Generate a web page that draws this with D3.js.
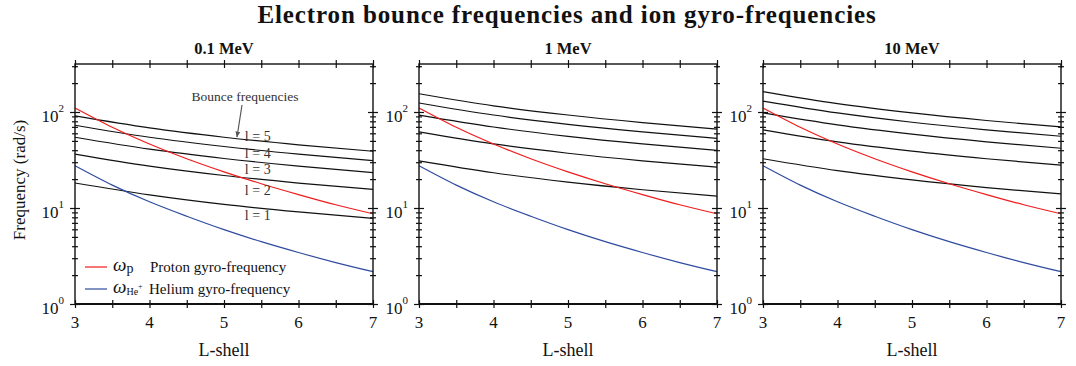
<!DOCTYPE html>
<html lang="en">
<head>
<meta charset="UTF-8">
<title>Electron bounce frequencies and ion gyro-frequencies</title>
<script src="https://d3js.org/d3.v7.min.js"></script>
<style>
  body { margin: 0; background: #fff; }
  text { font-family: "Liberation Serif", "Times New Roman", serif; fill: #111; }
</style>
</head>
<body>
<div id="chart"></div>
<script>
// panel titles
const energies = ["0.1 MeV", "1 MeV", "10 MeV"];

// ion gyro-frequencies (rad/s), same in every panel
const lGyro = [3, 3.5, 4, 4.5, 5, 5.5, 6, 6.5, 7];
const protonGyro = [110, 69.3, 46.4, 32.6, 23.8, 17.9, 13.8, 10.8, 8.7];
const heliumGyro = [27.5, 17.3, 11.6, 8.2, 5.95, 4.46, 3.44, 2.7, 2.17];

// electron bounce frequencies, harmonics l = 1..5 (rad/s)
const lBounce = [3, 4, 5, 6, 7];
const harmonics = [1, 2, 3, 4, 5];
const bounce01 = [
  [18.2, 13.7, 10.9, 9.1, 7.8],
  [36.4, 27.3, 21.8, 18.2, 15.6],
  [54.6, 41.0, 32.8, 27.3, 23.4],
  [72.8, 54.6, 43.7, 36.4, 31.2],
  [91.0, 68.3, 54.6, 45.5, 39.0]
];
const bounce1 = [
  [31.0, 23.3, 18.6, 15.5, 13.3],
  [62.0, 46.5, 37.2, 31.0, 26.6],
  [93.0, 69.8, 55.8, 46.5, 39.9],
  [124, 93.0, 74.4, 62.0, 53.1],
  [155, 116, 93.0, 77.5, 66.4]
];
const bounce10 = [
  [32.6, 24.5, 19.6, 16.3, 14.0],
  [65.2, 48.9, 39.1, 32.6, 27.9],
  [97.8, 73.4, 58.7, 48.9, 41.9],
  [130, 97.8, 78.2, 65.2, 55.9],
  [163, 122, 97.8, 81.5, 69.9]
];
const bounceSets = [bounce01, bounce1, bounce10];

// axes
const xMajor = [3, 4, 5, 6, 7];
const xMinor = [3.5, 4.5, 5.5, 6.5];
const yMajor = [1, 10, 100];
const yExp = ["0", "1", "2"];
const yMinor = [2, 3, 4, 5, 6, 7, 8, 9, 20, 30, 40, 50, 60, 70, 80, 90, 200, 300];

const W = 1076, H = 366;
const lefts = [75, 419, 763];
const pw = 298, plotTop = 64, ph = 240;
const red = "#f01c1c", blue = "#2f4b9f";

const svg = d3.select("#chart").append("svg")
    .attr("width", W)
    .attr("height", H);

svg.append("text")
    .attr("x", 567)
    .attr("y", 23)
    .attr("text-anchor", "middle")
    .style("font-size", "25px")
    .style("letter-spacing", "0.9px")
    .style("font-weight", "bold")
    .text("Electron bounce frequencies and ion gyro-frequencies");

const x = d3.scaleLinear().domain([3, 7]).range([0, pw]);
const y = d3.scaleLog().domain([1, 316.2]).range([ph, 0]);

const line = d3.line()
    .x(d => x(d[0]))
    .y(d => y(d[1]))
    .curve(d3.curveMonotoneX);

energies.forEach((name, i) => {
  const g = svg.append("g").attr("transform", "translate(" + lefts[i] + "," + plotTop + ")");

  g.append("text")
      .attr("x", pw / 2)
      .attr("y", -10)
      .attr("text-anchor", "middle")
      .style("font-size", "16.5px")
      .style("font-weight", "bold")
      .text(name);

  // bounce lines
  bounceSets[i].forEach(vals => {
    g.append("path")
        .attr("d", line(lBounce.map((l, k) => [l, vals[k]])))
        .attr("fill", "none")
        .attr("stroke", "#111")
        .attr("stroke-width", 1.2);
  });

  g.append("path")
      .attr("d", line(lGyro.map((l, k) => [l, protonGyro[k]])))
      .attr("fill", "none")
      .attr("stroke", red)
      .attr("stroke-width", 1.2);

  g.append("path")
      .attr("d", line(lGyro.map((l, k) => [l, heliumGyro[k]])))
      .attr("fill", "none")
      .attr("stroke", blue)
      .attr("stroke-width", 1.2);

  // ticks on all four sides
  const bottom = g.append("g").attr("transform", "translate(0," + ph + ")")
      .call(d3.axisBottom(x).tickValues(xMajor.concat(xMinor)).tickFormat("").tickSizeOuter(0));
  const topAx = g.append("g")
      .call(d3.axisTop(x).tickValues(xMajor.concat(xMinor)).tickFormat("").tickSizeOuter(0));
  [bottom, topAx].forEach(a => {
    a.select(".domain").remove();
    a.selectAll(".tick line").attr("y1", -4).attr("y2", 4).attr("stroke", "#111").attr("stroke-width", 1.2);
  });

  const leftAx = g.append("g")
      .call(d3.axisLeft(y).tickValues(yMajor.concat(yMinor)).tickFormat("").tickSizeOuter(0));
  const rightAx = g.append("g").attr("transform", "translate(" + pw + ",0)")
      .call(d3.axisRight(y).tickValues(yMajor.concat(yMinor)).tickFormat("").tickSizeOuter(0));
  [leftAx, rightAx].forEach(a => {
    a.select(".domain").remove();
    a.selectAll(".tick line")
        .attr("x1", d => yMajor.includes(d) ? -5 : -3)
        .attr("x2", d => yMajor.includes(d) ? 5 : 3)
        .attr("stroke", "#111").attr("stroke-width", 1.2);
  });

  // frame
  g.append("rect")
      .attr("width", pw).attr("height", ph)
      .attr("fill", "none").attr("stroke", "#111").attr("stroke-width", 1.4);
  g.append("line")
      .attr("x1", 0).attr("x2", pw).attr("y1", ph).attr("y2", ph)
      .attr("stroke", "#111").attr("stroke-width", 2.2);

  // tick labels
  g.selectAll(".xlab").data(xMajor).enter().append("text")
      .attr("x", d => x(d))
      .attr("y", ph + 24)
      .attr("text-anchor", "middle")
      .style("font-size", "17px")
      .text(d => d);

  yMajor.forEach((v, k) => {
    const t = g.append("text")
        .attr("x", -11)
        .attr("y", y(v) + 10)
        .attr("text-anchor", "end");
    t.append("tspan").style("font-size", "17px").text("10");
    t.append("tspan").attr("dy", -10).style("font-size", "11px").text(yExp[k]);
  });

  g.append("text")
      .attr("x", pw / 2)
      .attr("y", ph + 52)
      .attr("text-anchor", "middle")
      .style("font-size", "18px")
      .text("L-shell");

  if (i === 0) {
    g.append("text")
        .attr("transform", "translate(-50," + (ph / 2 - 4) + ") rotate(-90)")
        .attr("text-anchor", "middle")
        .style("font-size", "17px")
        .text("Frequency (rad/s)");

    // harmonic labels
    const labY = [8.45, 15.4, 25.3, 37.7, 56.6];
    harmonics.forEach((h, k) => {
      g.append("text")
          .attr("x", x(5.28))
          .attr("y", y(labY[k]) + 5)
          .style("font-size", "14px")
          .style("fill", "#333")
          .text("l = " + h);
    });

    g.append("text")
        .attr("x", x(5.0) + 21)
        .attr("y", 37)
        .attr("text-anchor", "middle")
        .style("font-size", "13.5px")
        .style("fill", "#333")
        .text("Bounce frequencies");

    svg.append("defs").append("marker")
        .attr("id", "arr")
        .attr("viewBox", "0 0 10 10")
        .attr("refX", 9).attr("refY", 5)
        .attr("markerWidth", 5).attr("markerHeight", 8)
        .attr("orient", "auto")
        .append("path")
        .attr("d", "M0,1 L10,5 L0,9 Z")
        .attr("fill", "#555");

    g.append("line")
        .attr("x1", 167).attr("y1", 41)
        .attr("x2", 162).attr("y2", 73)
        .attr("stroke", "#555").attr("stroke-width", 1.2)
        .attr("marker-end", "url(#arr)");

    // legend
    const leg = [
      { color: red, sub: "p", sup: "", label: "Proton gyro-frequency", yy: 203, tx: 75 },
      { color: blue, sub: "He", sup: "+", label: "Helium gyro-frequency", yy: 225, tx: 74 }
    ];
    leg.forEach(d => {
      g.append("line")
          .attr("x1", 10).attr("x2", 32).attr("y1", d.yy).attr("y2", d.yy)
          .attr("stroke", d.color).attr("stroke-width", 1.2);
      const t = g.append("text").attr("x", 38).attr("y", d.yy + 4);
      t.append("tspan").style("font-size", "19px").style("font-style", "italic").text("\u03c9");
      t.append("tspan").attr("dy", 2).style("font-size", d.sup ? "10px" : "14px").text(d.sub);
      if (d.sup) t.append("tspan").attr("dy", -6).style("font-size", "8px").text(d.sup);
      g.append("text")
          .attr("x", d.tx).attr("y", d.yy + 5)
          .style("font-size", "15px")
          .text(d.label);
    });
  }
});
</script>
</body>
</html>
